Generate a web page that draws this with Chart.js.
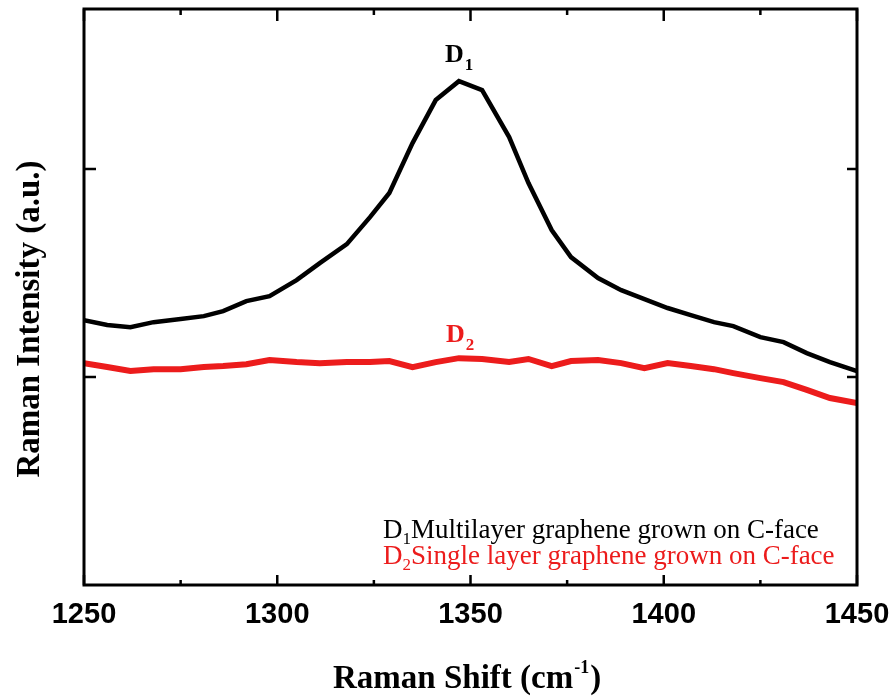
<!DOCTYPE html>
<html>
<head>
<meta charset="utf-8">
<script src="https://cdn.jsdelivr.net/npm/chart.js@4/dist/chart.umd.min.js"></script>
<style>
  html, body { margin: 0; padding: 0; background: #fff; }
  #wrap { width: 893px; height: 697px; position: relative; }
</style>
</head>
<body>
<div id="wrap"><canvas id="grafico"></canvas></div>
<script>
const ramanShift = [1250, 1256, 1262, 1268, 1275, 1281, 1286, 1292, 1298, 1305, 1311, 1318, 1324, 1329, 1335, 1341, 1347,
                    1353, 1360, 1365, 1371, 1376, 1383, 1389, 1395, 1401, 1407, 1413, 1418, 1425, 1431, 1437, 1443, 1450];
const multilayer = [1.274, 1.250, 1.240, 1.264, 1.279, 1.293, 1.317, 1.365, 1.389, 1.466, 1.548, 1.639, 1.769, 1.885, 2.125, 2.332, 2.423,
                    2.380, 2.154, 1.933, 1.707, 1.577, 1.476, 1.418, 1.375, 1.332, 1.298, 1.264, 1.245, 1.192, 1.168, 1.115, 1.072, 1.029];
const singleLayer = [1.067, 1.048, 1.029, 1.038, 1.038, 1.048, 1.053, 1.062, 1.082, 1.072, 1.067, 1.072, 1.072, 1.077, 1.048, 1.072, 1.091,
                     1.087, 1.072, 1.087, 1.053, 1.077, 1.082, 1.067, 1.043, 1.067, 1.053, 1.038, 1.019, 0.995, 0.976, 0.938, 0.899, 0.875];
const xMajorTicks = [1250, 1300, 1350, 1400, 1450];
const xMinorTicks = [1275, 1325, 1375, 1425];
const yTicks = [1, 2];
const legendD1 = "Multilayer graphene grown on C-face";
const legendD2 = "Single layer graphene grown on C-face";

const RED = "#ec1c1c";
const SERIF = "'Liberation Serif', 'Times New Roman', serif";

// marco, marcas hacia dentro y textos
const marcoPlugin = {
    id: "marco",
    afterDraw(chart) {
        const ctx = chart.ctx;
        const a = chart.chartArea;
        const xs = chart.scales.x;
        const ys = chart.scales.y;
        ctx.save();
        ctx.strokeStyle = "#000";
        ctx.lineWidth = 3;
        ctx.strokeRect(a.left, a.top, a.right - a.left, a.bottom - a.top);

        ctx.lineWidth = 2.5;
        ctx.beginPath();
        xMajorTicks.forEach(v => {
            const px = xs.getPixelForValue(v);
            ctx.moveTo(px, a.bottom); ctx.lineTo(px, a.bottom - 10);
            ctx.moveTo(px, a.top); ctx.lineTo(px, a.top + 12);
        });
        xMinorTicks.forEach(v => {
            const px = xs.getPixelForValue(v);
            ctx.moveTo(px, a.bottom); ctx.lineTo(px, a.bottom - 5);
            ctx.moveTo(px, a.top); ctx.lineTo(px, a.top + 6);
        });
        yTicks.forEach(v => {
            const py = ys.getPixelForValue(v);
            ctx.moveTo(a.left, py); ctx.lineTo(a.left + 12, py);
            ctx.moveTo(a.right, py); ctx.lineTo(a.right - 10, py);
        });
        ctx.stroke();

        // titulo eje X con superindice
        ctx.fillStyle = "#000";
        ctx.textBaseline = "alphabetic";
        ctx.textAlign = "left";
        ctx.font = "bold 33px " + SERIF;
        let x = 333;
        ctx.fillText("Raman Shift (cm", x, 688);
        x += ctx.measureText("Raman Shift (cm").width;
        ctx.font = "bold 18px " + SERIF;
        ctx.fillText("-1", x + 1, 673);
        x += ctx.measureText("-1").width + 2;
        ctx.font = "bold 33px " + SERIF;
        ctx.fillText(")", x, 688);

        // titulo eje Y
        ctx.save();
        ctx.translate(39, 319);
        ctx.rotate(-Math.PI / 2);
        ctx.textAlign = "center";
        ctx.font = "bold 33px " + SERIF;
        ctx.fillText("Raman Intensity (a.u.)", 0, 0);
        ctx.restore();

        // etiquetas D1 / D2
        const etiqueta = (color, sub, x0, y0) => {
            ctx.fillStyle = color;
            ctx.font = "bold 26px " + SERIF;
            ctx.fillText("D", x0, y0);
            const w = ctx.measureText("D").width;
            ctx.font = "bold 17px " + SERIF;
            ctx.fillText(sub, x0 + w + 1, y0 + 8);
        };
        etiqueta("#000", "1", 445, 62);
        etiqueta(RED, "2", 446, 342);

        // leyenda
        const linea = (color, sub, texto, x0, y0) => {
            ctx.fillStyle = color;
            ctx.font = "27px " + SERIF;
            ctx.fillText("D", x0, y0);
            let xx = x0 + ctx.measureText("D").width;
            ctx.font = "17px " + SERIF;
            ctx.fillText(sub, xx, y0 + 6);
            xx += ctx.measureText(sub).width;
            ctx.font = "27px " + SERIF;
            ctx.fillText(texto, xx, y0);
        };
        linea("#000", "1", legendD1, 383, 538);
        linea(RED, "2", legendD2, 383, 564);
        ctx.restore();
    }
};

document.addEventListener("DOMContentLoaded", function () {
    const puntos = serie => ramanShift.map((x, i) => ({ x: x, y: serie[i] }));
    const ctx = document.getElementById("grafico").getContext("2d");
    new Chart(ctx, {
        type: "line",
        data: {
            datasets: [
                {
                    label: "D1 " + legendD1,
                    data: puntos(multilayer),
                    borderColor: "#000",
                    borderWidth: 4.5,
                    pointRadius: 0,
                    tension: 0,
                    fill: false
                },
                {
                    label: "D2 " + legendD2,
                    data: puntos(singleLayer),
                    borderColor: RED,
                    borderWidth: 6,
                    pointRadius: 0,
                    tension: 0,
                    fill: false
                }
            ]
        },
        options: {
            responsive: true,
            maintainAspectRatio: false,
            animation: false,
            layout: { padding: { left: 84, right: 36, top: 9, bottom: 0 } },
            plugins: { legend: { display: false }, tooltip: { enabled: false } },
            scales: {
                x: {
                    type: "linear",
                    min: 1250,
                    max: 1450,
                    afterFit: s => { s.height = 112; s.paddingLeft = 0; s.paddingRight = 0; },
                    afterBuildTicks: s => { s.ticks = xMajorTicks.map(v => ({ value: v })); },
                    grid: { display: false, drawTicks: false },
                    border: { display: false },
                    ticks: {
                        padding: 13,
                        color: "#000",
                        callback: v => String(v),
                        font: { family: "'Liberation Sans', Arial, sans-serif", size: 29, weight: "bold" }
                    }
                },
                y: {
                    display: false,
                    min: 0,
                    max: 2.77
                }
            }
        },
        plugins: [marcoPlugin]
    });
});
</script>
</body>
</html>
